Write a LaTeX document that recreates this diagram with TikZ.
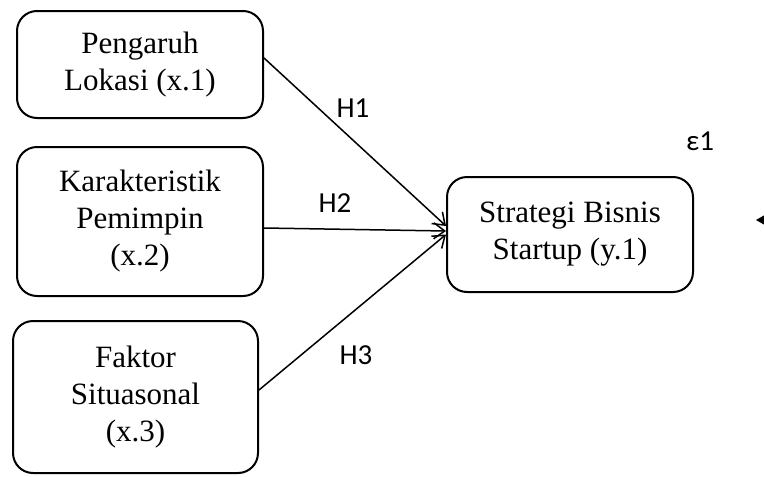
\documentclass[tikz,border=0pt]{standalone}
\usepackage{fontspec}
\setmainfont{Liberation Serif}
\newfontfamily\calib{Carlito}
\usetikzlibrary{arrows.meta}
\tikzset{
  varbox/.style={draw, line width=2pt, rounded corners=20pt, inner sep=0pt, align=center,
    font=\fontsize{31}{37}\selectfont},
  hyp/.style={line width=1.5pt, -{Straight Barb[length=11pt,width=16pt,line width=1.5pt]}},
  hlabel/.style={font=\calib\fontsize{29}{30}\selectfont, inner sep=0pt}
}
\begin{document}
\begin{tikzpicture}[x=1pt,y=-1pt]
\useasboundingbox (0,0) rectangle (764,477);
\node[varbox, minimum width=246pt, minimum height=107pt] (b1) at (140,64.5) {Pengaruh\\Lokasi (x.1)};
\node[varbox, minimum width=246pt, minimum height=149pt] (b2) at (140,221.5) {Karakteristik\\Pemimpin\\(x.2)};
\node[varbox, minimum width=245pt, minimum height=152pt] (b3) at (135.5,397) {Faktor\\Situasonal\\(x.3)};
\node[varbox, minimum width=246pt, minimum height=115pt] (b4) at (570,234.5) {Strategi Bisnis\\Startup (y.1)};
\draw[hyp] ([yshift=6.5pt]b1.east) -- ([yshift=8.5pt]b4.west);
\draw[hyp] ([yshift=-6.5pt]b2.east) -- ([yshift=3.5pt]b4.west);
\draw[hyp] ([yshift=7pt]b3.east) -- (b4.west);
\node[hlabel] (h1) at (353,108) {H1};
\node[hlabel] (h2) at (335,203) {H2};
\node[hlabel] (h3) at (356,355) {H3};
\node[hlabel] (eps) at (700,141) {ε1};
\coordinate (eR) at (765,220);
\coordinate (eL) at (756,220);
\draw[line width=1pt, -{Triangle[length=9pt,width=10pt]}] (eR) -- (eL);
\end{tikzpicture}
\end{document}
